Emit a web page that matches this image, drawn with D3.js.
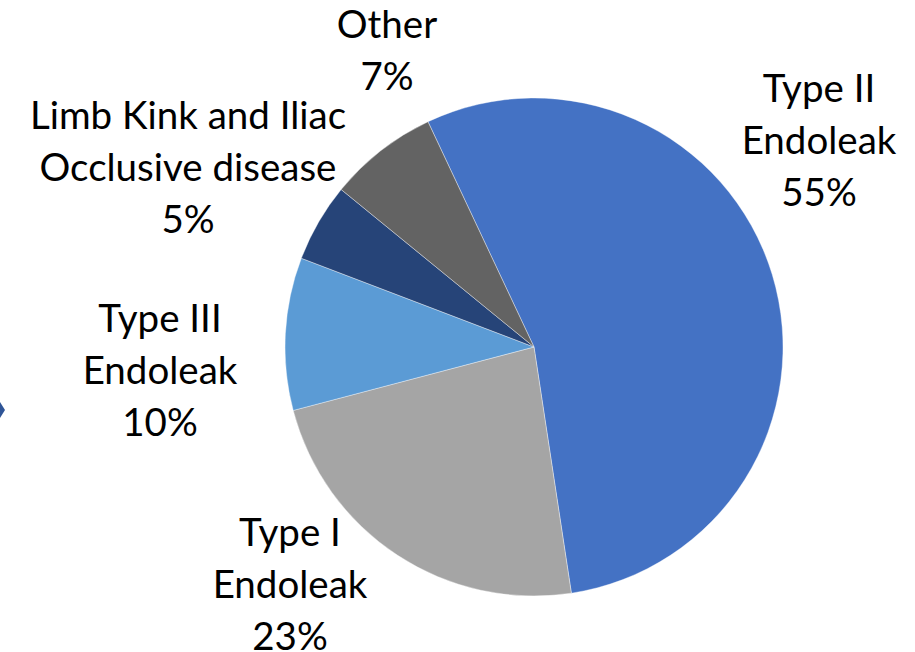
<!DOCTYPE html>
<meta charset="utf-8">
<script src="https://d3js.org/d3.v7.min.js"></script>
<style>
  body { margin: 0; background: #fff; }
  svg text { font-family: "Lato", "Open Sans", sans-serif; fill: #000; }
</style>
<div id="chart"></div>
<script>
  // slice data, clockwise from the top boundary
  var categories = ["Type II Endoleak", "Type I Endoleak", "Type III Endoleak",
    "Limb Kink and Iliac Occlusive disease", "Other"];
  var values = [54.6, 23.3, 9.9, 5.1, 7.1];
  var colors = ["#4472C4", "#A5A5A5", "#5B9BD5", "#264478", "#636363"];
  // how each label breaks into lines
  var labelLines = [
    ["Type II", "Endoleak"],
    ["Type I", "Endoleak"],
    ["Type III", "Endoleak"],
    ["Limb Kink and Iliac", "Occlusive disease"],
    ["Other"]
  ];

  var width = 915, height = 652;
  var cx = 534, cy = 347, radius = 249;
  var startDeg = -25.2;
  // label block centres (x, y of first line centre)
  var labelPos = [[819, 88], [290, 532], [160, 318], [188, 115], [387, 24]];
  var lineH = 52, fontSize = 38.5;

  var svg = d3.select("#chart").append("svg")
    .attr("width", width).attr("height", height);

  var pie = d3.pie().sort(null).value(function (d) { return d; })
    .startAngle(startDeg * Math.PI / 180)
    .endAngle(startDeg * Math.PI / 180 + 2 * Math.PI);
  var arc = d3.arc().innerRadius(0).outerRadius(radius);
  var arcs = pie(values);

  var g = svg.append("g").attr("transform", "translate(" + cx + "," + cy + ")");
  g.selectAll("path")
    .data(arcs)
    .enter()
    .append("path")
    .attr("d", arc)
    .attr("fill", function (d, i) { return colors[i]; })
    .attr("stroke", "#ffffff")
    .attr("stroke-opacity", 0.5)
    .attr("stroke-width", 0.75);

  var total = d3.sum(values);
  var labels = svg.selectAll(".lbl")
    .data(arcs)
    .enter()
    .append("text")
    .attr("class", "lbl")
    .attr("text-anchor", "middle")
    .attr("font-size", fontSize);

  labels.each(function (d, i) {
    var t = d3.select(this);
    var lines = labelLines[i].concat([Math.round(d.value / total * 100) + "%"]);
    lines.forEach(function (s, k) {
      t.append("tspan")
        .attr("x", labelPos[i][0])
        .attr("y", labelPos[i][1] + k * lineH)
        .attr("dy", "0.36em")
        .text(s);
    });
  });

  // small arrow tip at the left edge
  svg.append("path")
    .attr("d", "M0,402 L5,410 L0,418 Z")
    .attr("fill", "#2F5597");
</script>
